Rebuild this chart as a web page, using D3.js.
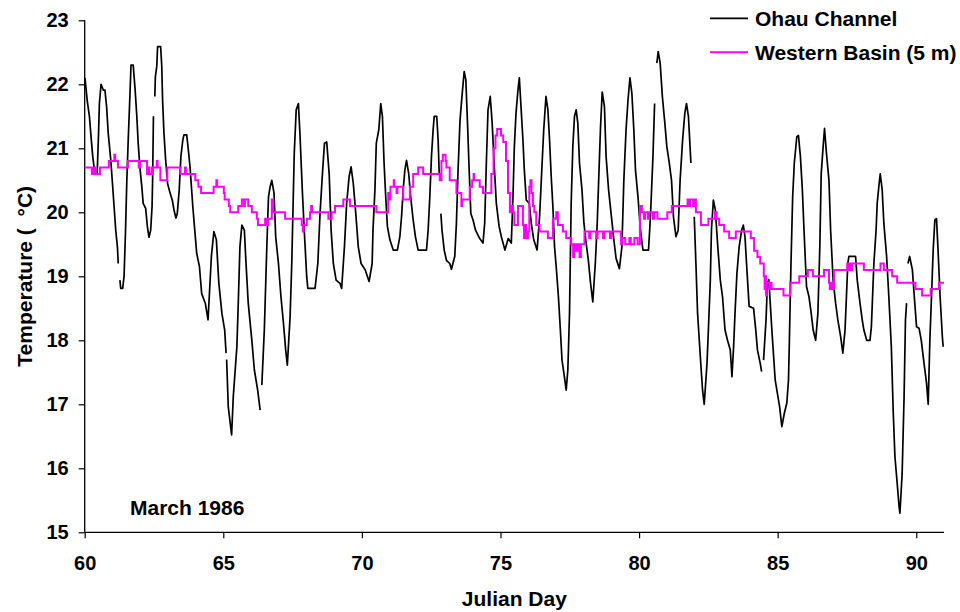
<!DOCTYPE html>
<html>
<head>
<meta charset="utf-8">
<script src="https://cdn.jsdelivr.net/npm/d3@7"></script>
<style>
  html, body { margin: 0; padding: 0; background: #fff; }
  svg text { font-family: Arial, "Liberation Sans", sans-serif; font-weight: bold; fill: #000; }
</style>
</head>
<body>
<svg id="chart" width="960" height="612"></svg>
<script>
// Ohau Channel temperature trace (Julian day, °C); null marks a break in the record
const ohauDay = [
  60.01,60.09,60.17,60.22,60.29,60.37,60.45,60.50,60.53,60.59,60.67,60.73,60.79,60.85,60.94,61.01,61.06,61.12,61.18,61.21,null,
  61.27,61.30,61.37,61.42,61.47,61.52,61.57,61.63,61.67,61.75,61.82,61.88,61.93,61.99,62.06,62.11,62.20,62.26,62.32,62.38,62.43,62.45,62.48,null,
  62.53,62.55,62.60,62.63,62.74,62.78,62.81,62.86,62.92,62.99,63.08,63.16,63.22,63.29,63.34,63.41,63.47,63.54,63.58,63.68,63.74,63.80,63.90,63.98,
  64.04,64.14,64.22,64.35,64.45,64.57,64.66,64.75,64.84,64.95,65.05,65.10,null,
  65.12,65.18,65.30,65.36,65.49,65.54,65.60,65.67,65.76,65.82,65.90,66.03,66.12,66.24,66.33,null,
  66.39,66.48,66.57,66.63,66.69,66.75,66.83,66.89,66.99,67.08,67.17,67.25,67.31,67.41,67.47,67.53,67.56,67.63,67.71,67.77,67.85,67.92,
  68.01,68.05,68.31,68.41,68.49,68.57,68.65,68.73,68.82,68.89,68.97,69.07,69.21,69.27,69.37,69.45,69.54,69.61,69.69,69.78,69.87,69.97,
  70.12,70.26,70.37,70.40,70.47,70.52,70.61,70.68,70.74,70.80,70.86,70.92,71.01,71.13,71.28,71.37,71.43,71.49,71.55,71.61,71.69,71.76,71.85,71.93,
  72.03,72.33,72.39,72.45,72.51,72.57,72.61,72.70,72.75,72.79,null,
  72.85,72.89,72.97,73.05,73.17,73.23,73.35,73.41,73.47,73.54,73.63,73.69,73.75,73.81,73.87,73.93,74.01,74.10,74.25,74.37,74.43,74.49,74.55,74.63,
  74.70,74.77,74.85,74.95,75.03,75.16,75.28,75.39,75.45,75.50,75.56,75.63,75.68,75.74,75.81,75.86,75.93,76.04,76.11,76.20,76.32,76.41,76.49,76.56,
  76.64,76.71,76.77,76.83,76.89,76.95,77.01,77.09,77.16,77.22,77.29,77.37,77.43,77.49,77.55,77.61,77.67,77.73,77.79,77.85,77.94,78.01,78.09,78.17,
  78.25,78.33,78.42,78.49,78.55,78.61,78.67,78.75,78.81,78.90,78.99,79.09,79.17,79.29,79.38,79.45,79.53,79.60,79.67,79.74,79.81,79.87,79.96,80.05,
  80.14,80.34,80.41,80.50,80.56,null,
  80.64,80.69,80.76,80.84,80.93,81.00,81.09,81.17,81.24,81.33,81.41,81.48,81.57,81.65,81.71,81.78,81.87,null,
  81.99,82.05,82.11,82.21,82.29,82.35,82.45,82.50,82.57,82.61,82.68,82.75,82.83,82.93,83.01,83.10,83.19,83.29,83.35,83.41,83.46,83.53,83.61,83.70,
  83.76,83.82,83.89,83.97,84.13,84.21,84.27,84.37,84.42,null,
  84.49,84.58,84.63,84.68,84.79,84.91,85.07,85.15,85.24,85.33,85.39,85.42,85.48,85.54,85.60,85.69,85.75,85.82,85.89,85.95,86.04,86.13,86.21,86.28,
  86.37,86.45,86.52,86.57,86.64,86.69,86.76,86.85,86.91,87.00,87.09,87.17,87.27,87.35,87.43,87.48,87.53,87.57,87.81,87.87,87.97,88.05,88.11,88.21,
  88.33,88.38,88.47,88.55,88.59,88.66,88.70,88.77,88.83,88.93,89.01,89.10,89.17,89.23,89.31,89.38,89.41,89.49,89.56,89.61,89.65,null,
  89.70,89.76,89.86,89.92,90.01,90.10,90.18,90.28,90.37,90.43,90.49,90.54,90.61,90.67,90.73,90.78,90.86,90.94,90.97
];
const ohauTemp = [
  22.1,21.75,21.5,21.23,20.87,20.6,20.6,21.23,21.7,22.0,21.91,21.91,21.65,21.23,20.82,20.4,20.09,19.72,19.46,19.2,null,
  18.94,18.81,18.81,19.0,19.67,20.5,21.13,21.81,22.3,22.3,21.91,21.5,21.08,20.71,20.4,20.14,20.06,19.78,19.61,19.72,20.09,20.5,21.5,null,
  21.81,22.12,22.28,22.59,22.59,22.28,21.75,21.23,20.82,20.45,20.3,20.19,20.04,19.91,19.98,20.35,20.87,21.13,21.21,21.21,20.97,20.71,20.09,19.67,
  19.36,19.15,18.73,18.58,18.32,19.31,19.7,19.57,18.89,18.42,18.16,17.8,null,
  17.7,16.96,16.52,17.12,17.9,18.58,19.46,19.8,19.72,19.2,18.58,18.0,17.54,17.22,16.91,null,
  17.3,18.16,19.46,20.24,20.4,20.5,20.3,19.62,19.2,18.68,18.27,17.85,17.61,18.37,19.2,20.35,20.92,21.6,21.7,21.18,20.35,19.72,
  18.99,18.81,18.81,19.2,19.98,20.56,21.08,21.1,20.6,19.72,19.2,18.94,18.89,18.81,19.46,20.14,20.56,20.71,20.45,19.98,19.46,19.2,
  19.1,18.92,19.2,19.72,20.35,21.08,21.29,21.7,21.5,20.77,20.24,19.78,19.57,19.41,19.41,19.62,19.93,20.35,20.66,20.81,20.6,20.24,19.88,19.62,
  19.41,19.41,19.72,20.24,20.87,21.29,21.5,21.5,21.13,20.6,null,
  19.98,19.72,19.41,19.25,19.2,19.11,19.31,19.83,20.66,21.44,21.91,22.2,22.07,21.39,20.66,19.98,19.88,19.72,19.59,19.52,19.83,20.77,21.6,21.81,
  21.39,20.77,20.14,19.78,19.62,19.41,19.59,19.52,20.24,21.03,21.55,21.91,22.1,21.65,21.13,20.66,20.19,20.14,19.83,19.57,19.41,19.93,20.66,21.29,
  21.81,21.6,21.13,20.56,20.09,19.46,19.15,18.68,18.16,17.69,17.48,17.22,17.54,18.42,20.14,21.03,21.5,21.6,21.39,20.77,20.35,19.83,19.52,19.25,
  18.89,18.6,19.2,19.83,20.6,21.34,21.88,21.65,20.87,20.35,19.98,19.57,19.28,19.12,19.46,20.5,21.29,21.75,22.1,21.86,21.29,20.66,20.24,19.72,
  19.41,19.41,19.93,20.87,21.7,null,
  22.33,22.51,22.33,21.81,21.39,21.03,20.77,20.5,19.93,19.62,19.72,20.5,21.13,21.55,21.7,21.5,20.77,null,
  19.93,19.2,18.42,17.74,17.22,17.0,17.64,18.16,18.94,19.72,20.19,20.04,19.52,18.94,18.68,18.16,18.0,17.85,17.43,17.9,18.42,19.05,19.46,19.72,
  19.8,19.62,19.1,18.53,18.5,18.16,17.85,17.64,17.51,null,
  17.69,18.32,18.89,18.95,18.16,17.38,16.96,16.65,16.86,17.02,17.38,17.95,19.2,20.24,20.77,21.18,21.2,20.87,20.35,19.72,18.84,18.68,18.42,18.16,
  18.0,18.42,19.46,20.6,21.03,21.31,20.92,20.5,19.72,18.94,18.58,18.32,18.06,17.8,18.16,18.68,19.2,19.31,19.31,18.94,18.58,18.32,18.16,18.0,
  18.0,18.21,19.2,19.72,20.14,20.45,20.6,20.35,19.83,19.31,18.68,17.9,16.86,16.18,15.77,15.4,15.3,15.92,17.12,18.32,18.58,null,
  19.2,19.31,19.1,18.73,18.21,18.19,18.0,17.64,17.33,17.0,18.0,18.58,19.41,19.88,19.9,19.46,18.68,18.06,17.9
];

// Western Basin (5 m) readings: each value holds from its day until the next one
const basinDay = [
  60.00,60.26,60.33,60.38,60.55,60.87,61.07,61.10,61.20,61.56,61.95,62.00,62.25,62.30,62.34,62.43,62.60,62.63,62.73,62.98,
  63.46,63.62,63.65,63.99,64.10,64.20,64.65,64.75,64.78,65.02,65.05,65.20,65.25,65.54,65.67,65.75,65.78,65.90,66.03,66.21,
  66.25,66.51,66.56,66.62,66.75,66.80,67.23,67.83,67.87,67.90,68.01,68.13,68.17,68.20,68.79,68.91,69.03,69.33,69.57,70.52,
  70.95,71.00,71.03,71.15,71.17,71.25,71.28,71.49,71.73,71.85,72.03,72.21,72.81,72.87,72.92,73.02,73.05,73.17,73.41,73.59,
  73.62,73.89,73.98,74.03,74.05,74.25,74.37,74.67,74.75,74.82,74.88,75.02,75.10,75.20,75.27,75.34,75.38,75.45,75.50,75.63,
  75.81,75.85,75.88,75.92,75.99,76.04,76.08,76.12,76.17,76.22,76.29,76.41,76.71,76.89,77.01,77.07,77.25,77.37,77.55,77.62,
  77.66,77.72,77.78,77.85,77.90,78.03,78.20,78.25,78.45,78.50,78.70,78.75,78.95,79.00,79.35,79.40,79.50,79.65,79.70,79.83,
  79.95,80.03,80.10,80.18,80.22,80.32,80.36,80.50,80.55,80.66,81.02,81.18,81.75,81.80,81.84,81.95,82.00,82.05,82.23,82.50,
  82.74,82.80,82.89,83.07,83.25,83.49,84.03,84.15,84.27,84.37,84.50,84.53,84.55,84.58,84.61,84.70,84.75,84.78,85.21,85.45,
  85.78,86.09,86.27,86.67,86.85,86.88,86.92,86.97,87.03,87.51,87.55,87.58,87.64,87.68,88.11,88.71,88.83,89.13,89.31,89.97,
  90.21,90.52,90.82,91.00
];
const basinTemp = [
  20.7,20.6,20.7,20.6,20.7,20.8,20.9,20.8,20.7,20.8,20.7,20.8,20.6,20.7,20.6,20.7,20.8,20.7,20.5,20.7,
  20.6,20.7,20.6,20.5,20.4,20.3,20.4,20.5,20.4,20.3,20.2,20.1,20.0,20.1,20.2,20.1,20.2,20.1,20.0,19.9,
  19.8,19.9,19.8,19.9,20.2,20.0,19.9,19.8,19.7,19.8,19.9,20.0,20.1,20.0,19.9,20.0,20.1,20.2,20.1,20.0,
  20.3,20.2,20.4,20.5,20.4,20.3,20.4,20.2,20.4,20.6,20.7,20.6,20.5,20.8,20.9,20.8,20.7,20.5,20.3,20.1,
  20.2,20.4,20.5,20.6,20.5,20.4,20.3,20.6,21.0,21.2,21.3,21.2,21.1,20.8,20.3,20.0,20.1,20.0,19.8,20.1,
  19.8,19.6,19.8,19.6,19.7,20.4,20.5,20.3,20.1,20.0,19.8,19.7,19.6,19.9,20.0,19.8,19.7,19.6,19.5,19.3,
  19.5,19.4,19.5,19.3,19.5,19.7,19.6,19.7,19.6,19.7,19.6,19.7,19.6,19.7,19.5,19.6,19.5,19.6,19.5,19.6,
  19.5,20.1,20.0,19.9,20.0,19.9,20.0,19.9,20.0,19.9,20.0,20.1,20.2,20.1,20.2,20.1,20.2,20.0,19.8,19.9,
  20.0,19.9,19.8,19.7,19.6,19.7,19.6,19.4,19.3,19.2,19.0,18.8,19.0,18.7,18.9,18.8,18.9,18.8,18.7,18.9,
  19.0,19.1,19.0,19.1,18.9,18.8,18.9,18.8,19.1,19.2,19.1,19.2,19.1,19.2,19.1,19.2,19.1,19.0,18.9,18.8,
  18.7,18.8,18.9,18.9
];

const xTicks = [60, 65, 70, 75, 80, 85, 90];
const yTicks = [15, 16, 17, 18, 19, 20, 21, 22, 23];
const seriesNames = ["Ohau Channel", "Western Basin (5 m)"];
const seriesColors = ["#000000", "#FF00FF"];

const svg = d3.select("#chart");
const plot = { left: 84.7, right: 944, top: 20.3, bottom: 532.3 };

const x = d3.scaleLinear().domain([60, 91]).range([plot.left, plot.right]);
const y = d3.scaleLinear().domain([15, 23]).range([plot.bottom, plot.top]);

const ohau = ohauDay.map((d, i) => ({ day: d, t: ohauTemp[i] }));
const basin = basinDay.map((d, i) => ({ day: d, t: basinTemp[i] }));

// axes
const xAxis = svg.append("g")
  .attr("transform", `translate(0,${plot.bottom})`)
  .call(d3.axisBottom(x).tickValues(xTicks).tickSize(6).tickPadding(18).tickFormat(d3.format("d")));
const yAxis = svg.append("g")
  .attr("transform", `translate(${plot.left},0)`)
  .call(d3.axisLeft(y).tickValues(yTicks).tickSize(6).tickPadding(10).tickFormat(d3.format("d")));

[xAxis, yAxis].forEach(g => {
  g.select(".domain").attr("stroke", "#000").attr("stroke-width", 1.3);
  g.selectAll(".tick line").attr("stroke", "#000").attr("stroke-width", 1.2);
  g.selectAll(".tick text")
    .attr("font-size", 20)
    .attr("font-family", "Arial, 'Liberation Sans', sans-serif")
    .attr("font-weight", "bold")
    .attr("fill", "#000");
});
// remove the outer end caps of the domain paths
xAxis.select(".domain").attr("d", `M${plot.left},0H${plot.right}`);
yAxis.select(".domain").attr("d", `M0,${plot.top}V${plot.bottom}`);

// data lines
const ohauLine = d3.line()
  .defined(d => d.t !== null)
  .x(d => x(d.day))
  .y(d => y(d.t));

const basinLine = d3.line()
  .curve(d3.curveStepAfter)
  .x(d => x(d.day))
  .y(d => y(d.t));

svg.append("path")
  .datum(ohau)
  .attr("fill", "none")
  .attr("stroke", seriesColors[0])
  .attr("stroke-width", 1.7)
  .attr("stroke-linejoin", "round")
  .attr("d", ohauLine);

svg.append("path")
  .datum(basin)
  .attr("fill", "none")
  .attr("stroke", seriesColors[1])
  .attr("stroke-width", 2)
  .attr("d", basinLine);

// axis titles
svg.append("text")
  .attr("x", (plot.left + plot.right) / 2)
  .attr("y", 606)
  .attr("text-anchor", "middle")
  .attr("font-size", 21)
  .text("Julian Day");

svg.append("text")
  .attr("transform", `translate(32,${(plot.top + plot.bottom) / 2}) rotate(-90)`)
  .attr("text-anchor", "middle")
  .attr("font-size", 21)
  .style("white-space", "pre")
  .text("Temperature (  \u00B0C)");

// period note
svg.append("text")
  .attr("x", 130)
  .attr("y", 515)
  .attr("font-size", 21)
  .text("March 1986");

// legend
const legend = svg.append("g");
const legendRows = [18.3, 52.3];
seriesNames.forEach((name, i) => {
  legend.append("line")
    .attr("x1", 710).attr("x2", 748)
    .attr("y1", legendRows[i]).attr("y2", legendRows[i])
    .attr("stroke", seriesColors[i])
    .attr("stroke-width", i === 0 ? 1.7 : 2);
  legend.append("text")
    .attr("x", 755)
    .attr("y", legendRows[i] + 7.5)
    .attr("font-size", 21)
    .text(name);
});
</script>
</body>
</html>
